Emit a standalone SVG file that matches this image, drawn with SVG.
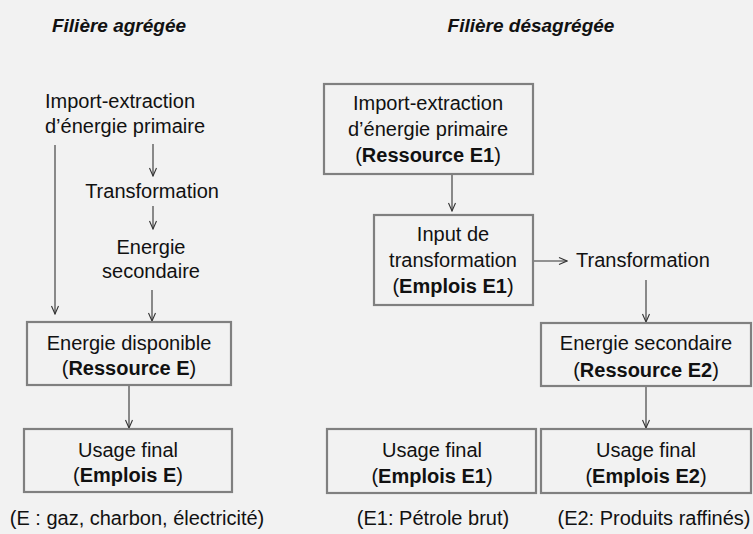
<svg xmlns="http://www.w3.org/2000/svg" width="753" height="534" viewBox="0 0 753 534">
<defs>
<marker id="ah" viewBox="0 0 10 10" refX="9" refY="5" markerWidth="10" markerHeight="10" markerUnits="userSpaceOnUse" orient="auto">
<path d="M1,1.5 L9,5 L1,8.5" fill="none" stroke="#333" stroke-width="1.1"/>
</marker>
<style>
text{font-family:"Liberation Sans",Arial,sans-serif;font-size:20px;fill:#111}
.c{text-anchor:middle}
.b{font-weight:bold}
.t{font-weight:bold;font-style:italic;font-size:19px}
.box{fill:none;stroke:#808080;stroke-width:2.2}
.ar{fill:none;stroke:#333;stroke-width:1.1;marker-end:url(#ah)}
</style>
</defs>
<rect width="753" height="534" fill="#f2f2f2"/>
<g id="titles">
<text class="t c" x="119" y="32">Filière agrégée</text>
<text class="t c" x="531" y="32">Filière désagrégée</text>
</g>
<g id="connectors">
<line class="ar" x1="153" y1="144" x2="153" y2="176"/>
<line class="ar" x1="153" y1="206" x2="153" y2="229"/>
<line class="ar" x1="55" y1="145" x2="55" y2="314"/>
<line class="ar" x1="152" y1="290" x2="152" y2="321"/>
<line class="ar" x1="129" y1="386" x2="129" y2="428"/>
<line class="ar" x1="452" y1="174" x2="452" y2="211"/>
<line class="ar" x1="533" y1="261" x2="567" y2="261"/>
<line class="ar" x1="646" y1="280" x2="646" y2="322"/>
<line class="ar" x1="646" y1="386" x2="646" y2="428"/>
</g>
<g id="n-import-left">
<text x="45" y="108">Import-extraction</text>
<text x="45" y="133">d’énergie primaire</text>
</g>
<g id="n-transformation-left">
<text class="c" x="152" y="198">Transformation</text>
</g>
<g id="n-energie-secondaire-left">
<text class="c" x="151" y="254">Energie</text>
<text class="c" x="151" y="278">secondaire</text>
</g>
<g id="n-energie-disponible">
<rect class="box" x="27" y="322" width="204" height="63"/>
<text class="c" x="129" y="350">Energie disponible</text>
<text class="c" x="129" y="375">(<tspan class="b">Ressource E</tspan>)</text>
</g>
<g id="n-usage-final-E">
<rect class="box" x="24" y="429" width="208" height="63"/>
<text class="c" x="128" y="457">Usage final</text>
<text class="c" x="128" y="482">(<tspan class="b">Emplois E</tspan>)</text>
</g>
<text class="c" x="137" y="525">(E : gaz, charbon, électricité)</text>
<g id="n-import-right">
<rect class="box" x="324" y="84" width="209" height="90"/>
<text class="c" x="428" y="110">Import-extraction</text>
<text class="c" x="428" y="136">d’énergie primaire</text>
<text class="c" x="428" y="162">(<tspan class="b">Ressource E1</tspan>)</text>
</g>
<g id="n-input-transformation">
<rect class="box" x="374" y="215" width="159" height="90"/>
<text class="c" x="453" y="241">Input de</text>
<text class="c" x="453" y="267">transformation</text>
<text class="c" x="453" y="293">(<tspan class="b">Emplois E1</tspan>)</text>
</g>
<g id="n-transformation-right">
<text x="576" y="267">Transformation</text>
</g>
<g id="n-energie-secondaire-right">
<rect class="box" x="541" y="323" width="210" height="63"/>
<text class="c" x="646" y="350">Energie secondaire</text>
<text class="c" x="646" y="377">(<tspan class="b">Ressource E2</tspan>)</text>
</g>
<g id="n-usage-final-E1">
<rect class="box" x="327" y="429" width="209" height="64"/>
<text class="c" x="432" y="457">Usage final</text>
<text class="c" x="432" y="483">(<tspan class="b">Emplois E1</tspan>)</text>
</g>
<g id="n-usage-final-E2">
<rect class="box" x="541" y="429" width="210" height="64"/>
<text class="c" x="646" y="457">Usage final</text>
<text class="c" x="646" y="483">(<tspan class="b">Emplois E2</tspan>)</text>
</g>
<text class="c" x="433" y="525">(E1: Pétrole brut)</text>
<text class="c" x="654" y="525">(E2: Produits raffinés)</text>
</svg>
